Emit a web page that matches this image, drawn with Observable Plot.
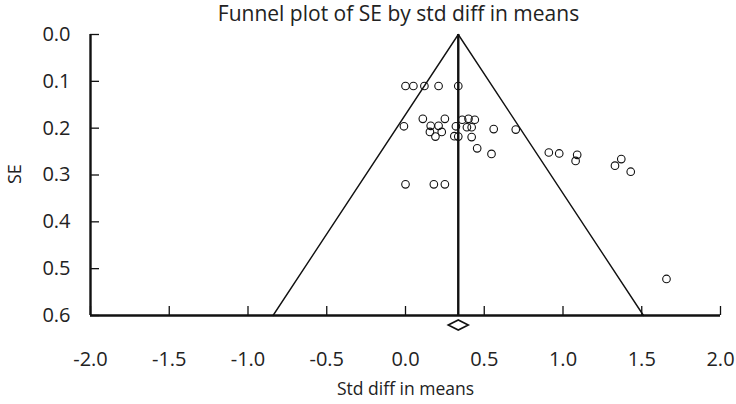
<!DOCTYPE html>
<html>
<head>
<meta charset="utf-8">
<script src="https://cdn.jsdelivr.net/npm/d3@7"></script>
<script src="https://cdn.jsdelivr.net/npm/@observablehq/plot@0.6"></script>
<style>
  html, body { margin: 0; padding: 0; background: #fff; }
  #chart svg { display: block; }
</style>
</head>
<body>
<div id="chart"></div>
<script>
// Study-level estimates (std diff in means) and their standard errors
const studyEffect = [
  0.00, 0.05, 0.12, 0.21, 0.335,
  -0.01, 0.11, 0.16, 0.21, 0.25, 0.155, 0.23, 0.19, 0.32, 0.31, 0.335,
  0.36, 0.40, 0.44, 0.39, 0.42, 0.42, 0.56, 0.70, 0.455, 0.546,
  0.91, 0.976, 1.09, 1.08, 1.37, 1.33, 1.43, 1.657,
  0.00, 0.18, 0.25
];
const studySE = [
  0.110, 0.110, 0.110, 0.110, 0.110,
  0.196, 0.180, 0.195, 0.195, 0.180, 0.208, 0.208, 0.218, 0.196, 0.217, 0.218,
  0.182, 0.180, 0.182, 0.198, 0.198, 0.219, 0.202, 0.203, 0.243, 0.255,
  0.252, 0.254, 0.257, 0.270, 0.266, 0.280, 0.293, 0.522,
  0.320, 0.320, 0.320
];
const pooledEffect = 0.335;
const funnelSE = [0.6, 0, 0.6];
const funnelSide = [-1, 0, 1];
const xTicks = [-2.0, -1.5, -1.0, -0.5, 0.0, 0.5, 1.0, 1.5, 2.0];
const yTicks = [0.0, 0.1, 0.2, 0.3, 0.4, 0.5, 0.6];
const titleText = "Funnel plot of SE by std diff in means";
const xLabel = "Std diff in means";
const yLabel = "SE";

const studies = studyEffect.map((x, i) => ({x, se: studySE[i]}));
const funnel = funnelSE.map((se, i) => ({x: pooledEffect + funnelSide[i] * 1.96 * se, se}));
const fmt = d => d.toFixed(1);

const FONT = "'Open Sans', 'Noto Sans', sans-serif";

const diamondHalfW = 10, diamondHalfH = 5;
const diamondSymbol = {
  draw(ctx) {
    ctx.moveTo(-diamondHalfW, 0);
    ctx.lineTo(0, -diamondHalfH);
    ctx.lineTo(diamondHalfW, 0);
    ctx.lineTo(0, diamondHalfH);
    ctx.closePath();
  }
};

const chart = Plot.plot({
  width: 736,
  height: 404,
  marginLeft: 90,
  marginRight: 16,
  marginTop: 34,
  marginBottom: 89,
  style: {fontFamily: FONT, color: "#222", background: "#fff"},
  x: {domain: [-2, 2]},
  y: {domain: [0, 0.6], reverse: true},
  marks: [
    Plot.line(funnel, {x: "x", y: "se", stroke: "#111", strokeWidth: 1.4}),
    Plot.ruleX([pooledEffect], {y1: 0, y2: 0.6, stroke: "#111", strokeWidth: 2.4}),
    Plot.dot(studies, {x: "x", y: "se", r: 3.8, stroke: "#111", strokeWidth: 1.1, fill: "none"}),
    Plot.ruleX([-2], {y1: 0, y2: 0.6, stroke: "#111", strokeWidth: 2.4}),
    Plot.ruleY([0.6], {x1: -2, x2: 2, stroke: "#111", strokeWidth: 2.4}),
    Plot.axisY({ticks: yTicks, tickFormat: fmt, tickSize: -9, tickPadding: 29, fontSize: 20, label: null, stroke: "#111", strokeWidth: 1.3, color: "#222"}),
    Plot.axisX({ticks: xTicks, tickFormat: fmt, tickSize: -9, tickPadding: 45, fontSize: 20, label: null, stroke: "#111", strokeWidth: 1.3, color: "#222"}),
    Plot.dot([pooledEffect], {x: d => d, frameAnchor: "bottom", dy: 9.5, symbol: diamondSymbol, r: 1, stroke: "#111", strokeWidth: 1.6, fill: "white"}),
    Plot.text([titleText], {frameAnchor: "top", dx: -7, dy: -20, fontSize: 21, text: d => d, fill: "#222", lineAnchor: "middle"}),
    Plot.text([xLabel], {frameAnchor: "bottom", dy: 74, fontSize: 17.5, text: d => d, fill: "#222", lineAnchor: "middle"}),
    Plot.text([yLabel], {frameAnchor: "left", dx: -75, dy: 9, rotate: -90, fontSize: 18, text: d => d, fill: "#222", lineAnchor: "middle"})
  ]
});
document.getElementById("chart").appendChild(chart);
</script>
</body>
</html>
